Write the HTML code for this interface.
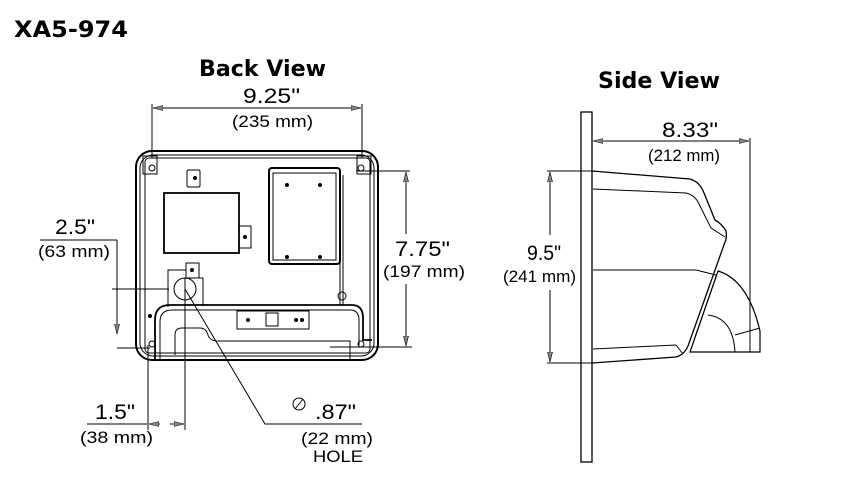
<!DOCTYPE html>
<html><head><style>html,body{margin:0;padding:0;background:#fff}svg{display:block}</style></head><body>
<svg width="850" height="496" viewBox="0 0 850 496" xmlns="http://www.w3.org/2000/svg" font-family="Liberation Sans, sans-serif">
<defs>
<marker id="a" viewBox="0 0 10 6" refX="10" refY="3" markerWidth="10" markerHeight="6" orient="auto-start-reverse" markerUnits="userSpaceOnUse"><path d="M0,0.5 L10,3 L0,5.5 z" fill="#888" stroke="#000" stroke-width="0.6"/></marker>
</defs>
<g font-family="DejaVu Sans, sans-serif" font-weight="bold">
<text x="14" y="37" font-size="22" textLength="114" lengthAdjust="spacingAndGlyphs">XA5-974</text>
<text x="199" y="76" font-size="22" textLength="127" lengthAdjust="spacingAndGlyphs">Back View</text>
<text x="598" y="88" font-size="22" textLength="122" lengthAdjust="spacingAndGlyphs">Side View</text>
</g>
<g stroke="#000" fill="none" stroke-width="1">
<line x1="152" y1="104" x2="152" y2="158"/><line x1="362" y1="104" x2="362" y2="158"/>
<line x1="153" y1="108" x2="361" y2="108" marker-start="url(#a)" marker-end="url(#a)"/>
<rect x="136" y="151" width="242" height="209" rx="16" stroke-width="2"/>
<rect x="140" y="155" width="234" height="201" rx="13"/>
<rect x="145" y="158" width="225" height="195" rx="4"/>
<rect x="143" y="156" width="14" height="18"/><rect x="357" y="156" width="14" height="18"/>
<circle cx="152" cy="168" r="3"/><circle cx="361" cy="168" r="3"/>
<circle cx="152" cy="344" r="3"/><circle cx="361" cy="344" r="3"/>
<rect x="187" y="170" width="13" height="17" rx="1.5"/>
<rect x="164" y="193" width="75" height="60" stroke-width="1.8"/>
<rect x="239" y="226" width="12" height="22"/>
<rect x="269" y="168" width="71" height="96" rx="3" stroke-width="2"/>
<rect x="273" y="173" width="63" height="87"/>
<path d="M340 262 V305 M343 175 V305" />
<circle cx="342" cy="296" r="4"/>
<rect x="186" y="263" width="13" height="15"/>
<path d="M168 307 V270 H186 M199 278 H203 V306"/>
<circle cx="185" cy="289" r="11"/>
<path d="M155 360 V320 Q155 305 170 305 H352 Q363 305 363 318 V340 H372" stroke-width="1.8"/>
<path d="M160 360 V322 Q160 310 172 310 H350 Q359 310 359 320 V345"/>
<path d="M175 355 V335 Q175 328 182 328 H200 Q206 328 208 335 Q210 341 218 341 H350 V360"/>
<rect x="237" y="311" width="72" height="18"/>
<rect x="266" y="313" width="12" height="13"/>
<line x1="356" y1="171" x2="410" y2="171"/><line x1="330" y1="347" x2="412" y2="347"/>
<line x1="406" y1="172" x2="406" y2="234" marker-start="url(#a)"/><line x1="406" y1="284" x2="406" y2="346" marker-end="url(#a)"/>
<line x1="40" y1="240" x2="117" y2="240"/><line x1="117" y1="240" x2="117" y2="334" marker-end="url(#a)"/>
<line x1="117" y1="348" x2="150" y2="348"/>
<line x1="112" y1="289" x2="169" y2="289"/>
<line x1="148" y1="345" x2="148" y2="430"/><line x1="185" y1="278" x2="185" y2="430"/>
<line x1="87" y1="424" x2="147" y2="424"/>
<line x1="160" y1="424" x2="149" y2="424" marker-end="url(#a)"/>
<line x1="170" y1="424" x2="184" y2="424" marker-end="url(#a)"/>
<polyline points="185,289 265,424 362,424"/>
<rect x="581" y="112" width="11" height="350" stroke-width="1.3"/>
<path d="M592 171 L690 179 Q700 182 704 193 L715 220 Q722 224 726 231 Q727 238 725 242 L688 346 Q684 355 676 357 L592 363" stroke-width="1.3"/>
<path d="M593 189 L686 193 M593 349 L676 345 M593 270 L696 270 M686 193 Q695 195 699 204 L711 228 L725 237 M676 345 L683 354 M696 270 L716 275"/>
<path d="M690 352 L718 271 Q748 280 760 331 V352 Z" stroke-width="1.2"/>
<path d="M708 315 Q733 318 735 352 M735 335 L760 328 M695 337 L716 277" />
<line x1="593" y1="141" x2="749" y2="141" marker-start="url(#a)" marker-end="url(#a)"/>
<line x1="750" y1="138" x2="750" y2="352"/>
<line x1="547" y1="171" x2="592" y2="171"/><line x1="547" y1="363" x2="592" y2="363"/>
<line x1="550" y1="172" x2="550" y2="235" marker-start="url(#a)"/><line x1="550" y1="290" x2="550" y2="362" marker-end="url(#a)"/>
<circle cx="299" cy="404" r="6"/><line x1="295" y1="409" x2="303" y2="399"/>
</g>
<g fill="#000" font-size="21">
<text x="243" y="103" textLength="57" lengthAdjust="spacingAndGlyphs">9.25"</text>
<text x="232" y="127" font-size="17" textLength="81" lengthAdjust="spacingAndGlyphs">(235 mm)</text>
<text x="395" y="256" textLength="55" lengthAdjust="spacingAndGlyphs">7.75"</text>
<text x="383" y="277" font-size="17" textLength="82" lengthAdjust="spacingAndGlyphs">(197 mm)</text>
<text x="55" y="234" textLength="40" lengthAdjust="spacingAndGlyphs">2.5"</text>
<text x="38" y="257" font-size="17" textLength="72" lengthAdjust="spacingAndGlyphs">(63 mm)</text>
<text x="95" y="419" textLength="40" lengthAdjust="spacingAndGlyphs">1.5"</text>
<text x="80" y="443" font-size="17" textLength="73" lengthAdjust="spacingAndGlyphs">(38 mm)</text>
<text x="315" y="419" textLength="41" lengthAdjust="spacingAndGlyphs">.87"</text>
<text x="301" y="444" font-size="17" textLength="72" lengthAdjust="spacingAndGlyphs">(22 mm)</text>
<text x="313" y="462" font-size="17" textLength="50" lengthAdjust="spacingAndGlyphs">HOLE</text>
<text x="662" y="137" textLength="56" lengthAdjust="spacingAndGlyphs">8.33"</text>
<text x="648" y="161" font-size="17" textLength="72" lengthAdjust="spacingAndGlyphs">(212 mm)</text>
<text x="527" y="260" textLength="34" lengthAdjust="spacingAndGlyphs">9.5"</text>
<text x="503" y="282" font-size="17" textLength="73" lengthAdjust="spacingAndGlyphs">(241 mm)</text>
</g>
<g fill="#000">
<circle cx="195" cy="178" r="2"/><circle cx="245" cy="237" r="2"/><circle cx="192" cy="270" r="2"/>
<circle cx="287" cy="185" r="2"/><circle cx="320" cy="185" r="2"/><circle cx="287" cy="257" r="2"/><circle cx="320" cy="257" r="2"/>
<circle cx="150" cy="316" r="2"/><circle cx="248" cy="320" r="2"/><circle cx="296" cy="320" r="2"/><circle cx="302" cy="320" r="2"/>
</g>
</svg>
</body></html>
